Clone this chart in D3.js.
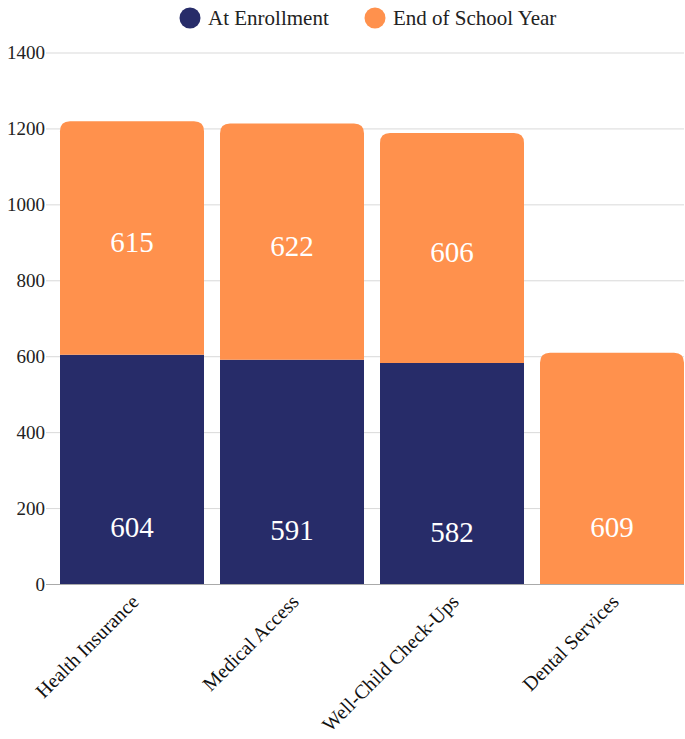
<!DOCTYPE html>
<html><head><meta charset="utf-8">
<script src="https://cdn.jsdelivr.net/npm/d3@7"></script>
<style>body{margin:0;background:#fff}svg{display:block}</style>
</head><body>
<svg id="c" width="685" height="739"></svg>
<script>
const categories = ["Health Insurance","Medical Access","Well-Child Check-Ups","Dental Services"];
const seriesNames = ["At Enrollment","End of School Year"];
const atEnrollment = [604, 591, 582, 0];
const endOfYear = [615, 622, 606, 609];
const yTicks = [0,200,400,600,800,1000,1200,1400];
const colors = ["#272c69","#ff914d"];
const FONT = "Liberation Serif";

const svg = d3.select("#c");
const x = d3.scaleBand().domain(categories).range([60,684]).paddingInner(0.1).paddingOuter(0);
const y = d3.scaleLinear().domain([0,1400]).range([584,52.5]);

// grid
svg.append("g").selectAll("line").data(yTicks).join("line")
  .attr("x1",46).attr("x2",684).attr("y1",d=>y(d)+0.5).attr("y2",d=>y(d)+0.5)
  .attr("stroke",d=>d===0?"#aaaaaa":"#d9d9d9").attr("stroke-width",1);
svg.append("g").selectAll("text").data(yTicks).join("text")
  .attr("x",45).attr("y",d=>y(d)).attr("dy","0.35em").attr("text-anchor","end")
  .attr("font-family",FONT).attr("font-size",19).attr("fill","#222").text(d=>d);

const data = categories.map((c,i)=>({cat:c, vals:[atEnrollment[i], endOfYear[i]]}));
const r = 10;
function segPath(x0,w,yTop,yBot,rounded){
  if(!rounded) return `M${x0},${yBot}V${yTop}H${x0+w}V${yBot}Z`;
  return `M${x0},${yBot}V${yTop+r}Q${x0},${yTop} ${x0+r},${yTop}H${x0+w-r}Q${x0+w},${yTop} ${x0+w},${yTop+r}V${yBot}Z`;
}
const g = svg.append("g");
data.forEach(d=>{
  let cum = 0;
  const lastIdx = d.vals.reduce((a,v,i)=>v>0?i:a,-1);
  d.vals.forEach((v,i)=>{
    if(v<=0) return;
    const y0 = y(cum), y1 = y(cum+v);
    g.append("path").attr("d",segPath(x(d.cat),x.bandwidth(),y1,y0,i===lastIdx)).attr("fill",colors[i]);
    const ly = cum===0 ? (y0+y1)/2+58 : (y0+y1)/2+4;
    g.append("text").attr("x",x(d.cat)+x.bandwidth()/2).attr("y",ly).attr("dy","0.35em")
      .attr("text-anchor","middle").attr("font-family",FONT).attr("font-size",29).attr("fill","#fff").text(v);
    cum += v;
  });
});

// x labels
svg.append("g").selectAll("text").data(categories).join("text")
  .attr("transform",d=>`translate(${x(d)+x.bandwidth()/2+8},${603}) rotate(-45)`)
  .attr("text-anchor","end").attr("font-family",FONT).attr("font-size",20).attr("fill","#111").text(d=>d);

// legend
const legX = [190, 375];
const lg = svg.append("g");
seriesNames.forEach((s,i)=>{
  lg.append("circle").attr("cx",legX[i]).attr("cy",18).attr("r",10.5).attr("fill",colors[i]);
  lg.append("text").attr("x",legX[i]+18).attr("y",18).attr("dy","0.35em").attr("font-family",FONT).attr("font-size",21).attr("fill","#222").text(s);
});
</script>
</body></html>
